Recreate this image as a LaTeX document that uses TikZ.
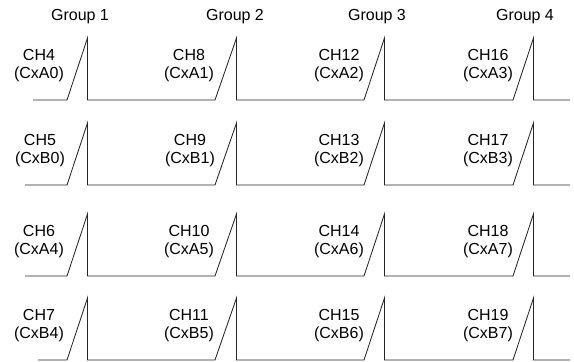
\documentclass[tikz,border=0pt]{standalone}
\usepackage{fontspec}
\setmainfont{Liberation Sans}
\begin{document}
\begin{tikzpicture}[x=1pt,y=-1pt,
  wave/.style={line width=0.85pt, black!85},
  chlbl/.style={font=\fontsize{16}{18}\selectfont, align=center, inner sep=0pt},
  grplbl/.style={font=\fontsize{16}{18}\selectfont, inner sep=0pt}]
\useasboundingbox (0,0) rectangle (574,362);
% group labels
\node[grplbl] (g1) at (80,17) {Group 1};
\node[grplbl] (g2) at (235,17) {Group 2};
\node[grplbl] (g3) at (377,17) {Group 3};
\node[grplbl] (g4) at (525,17) {Group 4};
% waveforms
\foreach \b/\s in {100/33,185/25,276/25,360/38}{
  \pgfmathsetmacro{\t}{\b-62}
  \draw[wave] (\s,\b) -- (67,\b) -- (87.5,\t) -- (87.5,\b)
     -- (215,\b) -- (236.5,\t) -- (236.5,\b)
     -- (364,\b) -- (384.5,\t) -- (384.5,\b)
     -- (513,\b) -- (533.5,\t) -- (533.5,\b) -- (570,\b);
}
% channel labels
\node[chlbl] (c4)  at (39,66)  {CH4\\(CxA0)};
\node[chlbl] (c8)  at (189,66) {CH8\\(CxA1)};
\node[chlbl] (c12) at (339,66) {CH12\\(CxA2)};
\node[chlbl] (c16) at (488,66) {CH16\\(CxA3)};
\node[chlbl] (c5)  at (40,151)  {CH5\\(CxB0)};
\node[chlbl] (c9)  at (190,151) {CH9\\(CxB1)};
\node[chlbl] (c13) at (339,151) {CH13\\(CxB2)};
\node[chlbl] (c17) at (488,151) {CH17\\(CxB3)};
\node[chlbl] (c6)  at (39,242)  {CH6\\(CxA4)};
\node[chlbl] (c10) at (189,242) {CH10\\(CxA5)};
\node[chlbl] (c14) at (339,242) {CH14\\(CxA6)};
\node[chlbl] (c18) at (488,242) {CH18\\(CxA7)};
\node[chlbl] (c7)  at (39,326)  {CH7\\(CxB4)};
\node[chlbl] (c11) at (189,326) {CH11\\(CxB5)};
\node[chlbl] (c15) at (339,326) {CH15\\(CxB6)};
\node[chlbl] (c19) at (488,326) {CH19\\(CxB7)};
\end{tikzpicture}
\end{document}
